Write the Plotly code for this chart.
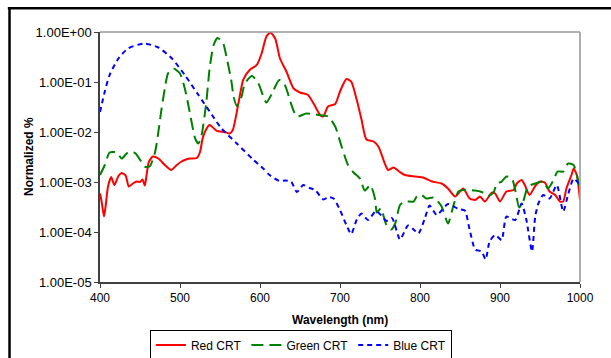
import plotly.graph_objects as go

# ---------------- data ----------------
red_wl = [400, 402, 405, 407, 410, 414, 418, 423, 427, 432, 436, 442, 446, 450, 453, 456, 458, 461,
          466, 473, 481, 489, 496, 502, 506, 512, 521, 525, 528, 531, 537, 546, 556, 562, 566, 573,
          579, 587, 596, 602, 608, 613, 619, 625, 633, 642, 650, 660, 669, 675, 679, 685, 694, 700,
          708, 714, 721, 727, 733, 742, 748, 756, 760, 767, 775, 781, 794, 804, 815, 827, 835, 844,
          854, 862, 869, 875, 881, 890, 894, 900, 908, 917, 921, 927, 931, 937, 944, 950, 956, 962,
          969, 975, 979, 983, 990, 992, 996, 1000]
red_val = [5.89e-4, 4.07e-4, 2.04e-4, 3.24e-4, 8.13e-4, 1.26e-3, 8.7e-4, 1.32e-3, 1.51e-3, 1.35e-3,
           8.13e-4, 9.55e-4, 1.02e-3, 1.0e-3, 1.12e-3, 8.51e-4, 1.3e-3, 2.5e-3,
           3.24e-3, 2.95e-3, 2.19e-3, 1.74e-3, 2.19e-3, 2.57e-3, 2.75e-3, 2.95e-3, 3.02e-3, 3.98e-3,
           7.08e-3, 1.0e-2, 1.38e-2, 1.05e-2, 1.0e-2, 9.33e-3, 1.1e-2, 3.72e-2,
           1.1e-1, 1.74e-1, 2.19e-1, 3.72e-1, 8.13e-1, 9.77e-1, 7.41e-1, 2.95e-1, 1.62e-1, 7.41e-2,
           6.17e-2, 5.5e-2, 3.24e-2, 2.19e-2, 2.04e-2, 3.24e-2, 3.63e-2, 6.46e-2,
           1.15e-1, 1.02e-1, 4.37e-2, 1.74e-2, 7.08e-3, 6.46e-3, 5.13e-3, 2.34e-3, 1.74e-3, 1.95e-3,
           1.58e-3, 1.38e-3, 1.29e-3, 1.23e-3, 1.02e-3, 9.33e-4, 7.41e-4, 5.13e-4,
           7.41e-4, 4.68e-4, 4.37e-4, 5.13e-4, 4.07e-4, 6.17e-4, 5.89e-4, 4.07e-4, 6.46e-4, 6.92e-4,
           9.33e-4, 1.1e-3, 8.7e-4, 5.5e-4, 8.32e-4, 1.02e-3, 9.77e-4, 6.46e-4,
           5.5e-4, 4.07e-4, 4.07e-4, 7.41e-4, 1.48e-3, 1.86e-3, 1.38e-3, 4.37e-4]

green_wl = [400, 406, 412, 421, 427, 435, 444, 456, 462, 469, 473, 477, 481, 485, 492, 500, 506, 512,
            519, 523, 527, 533, 537, 542, 547, 554, 558, 564, 567, 571, 577, 581, 590, 598, 608, 615,
            624, 631, 640, 646, 658, 673, 685, 694, 702, 710, 717, 725, 731, 738, 744, 746, 751, 758,
            764, 769, 775, 781, 792, 796, 802, 808, 817, 827, 835, 842, 848, 854, 869, 877, 885, 892,
            896, 902, 908, 915, 919, 924, 929, 935, 944, 954, 960, 967, 972, 979, 985, 992, 996, 1000]
green_val = [1.38e-3, 2.19e-3, 3.89e-3, 3.89e-3, 2.95e-3, 3.89e-3, 3.8e-3, 2.04e-3, 2.04e-3, 4.07e-3,
             1.02e-2, 2.95e-2, 7.41e-2, 1.48e-1, 1.86e-1, 1.48e-1, 7.41e-2, 2.57e-2,
             7.41e-3, 5.89e-3, 8.7e-3, 4.07e-2, 1.86e-1, 5.5e-1, 7.59e-1, 5.89e-1, 3.24e-1, 1.1e-1,
             5.13e-2, 3.31e-2, 5.13e-2, 9.33e-2, 1.32e-1, 9.33e-2, 3.89e-2, 5.89e-2,
             1.1e-1, 8.7e-2, 3.24e-2, 2.04e-2, 2.34e-2, 2.19e-2, 2.04e-2, 1.29e-2, 5.13e-3, 2.19e-3,
             1.55e-3, 1.17e-3, 6.76e-4, 8.7e-4, 4.47e-4, 2.45e-4, 2.95e-4, 1.38e-4,
             1.12e-4, 1.48e-4, 3.47e-4, 4.07e-4, 4.07e-4, 5.13e-4, 5.5e-4, 4.68e-4, 4.9e-4, 3.24e-4,
             1.48e-4, 3.47e-4, 6.46e-4, 6.92e-4, 6.76e-4, 6.31e-4, 5.25e-4, 6.17e-4,
             9.33e-4, 1.02e-3, 1.29e-3, 1.17e-3, 6.92e-4, 3.09e-4, 4.07e-4, 8.13e-4, 9.33e-4, 1.02e-3,
             7.41e-4, 1.1e-3, 1.62e-3, 1.62e-3, 2.34e-3, 2.19e-3, 1.38e-3, 7.41e-4]

blue_wl = [400, 406, 412, 423, 435, 455, 473, 490, 506, 523, 540, 552, 571, 592, 604, 612, 624, 632,
           639, 646, 654, 662, 669, 679, 686, 692, 700, 708, 714, 721, 727, 735, 745, 751, 758, 765,
           775, 785, 792, 798, 806, 812, 821, 835, 848, 856, 862, 869, 877, 882, 887, 894, 902, 908,
           919, 927, 933, 940, 944, 948, 954, 962, 971, 979, 985, 992, 1000]
blue_val = [2.5e-2, 6.46e-2, 1.38e-1, 2.95e-1, 4.68e-1, 5.89e-1, 4.9e-1, 2.95e-1, 1.38e-1, 5.5e-2,
            2.19e-2, 1.17e-2, 5.89e-3, 2.75e-3, 1.86e-3, 1.38e-3, 1.05e-3, 1.07e-3,
            1.02e-3, 6.3e-4, 8.7e-4, 7.6e-4, 6.9e-4, 4.47e-4, 5.0e-4, 4.68e-4, 2.75e-4, 1.38e-4,
            9.1e-5, 1.78e-4, 2.34e-4, 1.74e-4, 2.63e-4, 2.19e-4, 1.66e-4, 1.9e-4,
            7.1e-5, 1.35e-4, 1.12e-4, 9.3e-5, 1.86e-4, 3.39e-4, 2.19e-4, 3.63e-4, 2.88e-4, 2.69e-4,
            1.12e-4, 4.47e-5, 4.07e-5, 2.82e-5, 6.46e-5, 8.7e-5, 6.9e-5, 2.04e-4,
            1.74e-4, 3.72e-4, 1.74e-4, 4.07e-5, 2.04e-4, 3.72e-4, 5.5e-4, 4.68e-4, 8.7e-4, 2.57e-4,
            5.5e-4, 1.17e-3, 8.7e-4]

x_ticks = [400, 500, 600, 700, 800, 900, 1000]
y_ticks = [1e-5, 1e-4, 1e-3, 1e-2, 1e-1, 1e0]
y_tick_text = ["1.00E-05", "1.00E-04", "1.00E-03", "1.00E-02", "1.00E-01", "1.00E+00"]

FONT = "Liberation Sans, Arial, sans-serif"

fig = go.Figure()
fig.add_trace(go.Scatter(x=red_wl, y=red_val, name="Red CRT", mode="lines",
                         line=dict(color="#FF0000", width=2, shape="spline", smoothing=0.6)))
fig.add_trace(go.Scatter(x=green_wl, y=green_val, name="Green CRT", mode="lines",
                         line=dict(color="#008000", width=2, dash="12px,6px", shape="spline", smoothing=0.6)))
fig.add_trace(go.Scatter(x=blue_wl, y=blue_val, name="Blue CRT", mode="lines",
                         line=dict(color="#0000FF", width=2, dash="5px,4px", shape="spline", smoothing=0.6)))

fig.update_layout(
    width=611, height=358,
    margin=dict(l=100, r=31, t=32, b=76, autoexpand=False),
    paper_bgcolor="white", plot_bgcolor="white",
    font=dict(family=FONT, color="black", size=12),
    showlegend=True,
    legend=dict(orientation="h", x=0.104, xanchor="left", y=-0.19, yanchor="top",
                bordercolor="black", borderwidth=1, font=dict(size=12, family=FONT),
                tracegroupgap=0, itemwidth=30),
    xaxis=dict(range=[400, 1000], tickvals=x_ticks, ticks="outside", ticklen=4,
               tickcolor="#404040", showline=True, linecolor="#404040", linewidth=1.5,
               showgrid=False, zeroline=False, tickfont=dict(size=12, family=FONT)),
    yaxis=dict(type="log", range=[-5, 0], tickvals=y_ticks, ticktext=y_tick_text,
               ticks="outside", ticklen=4, tickcolor="#404040", showline=True,
               linecolor="#404040", linewidth=1.5, showgrid=False, zeroline=False,
               tickfont=dict(size=13, family=FONT)),
    shapes=[
        dict(type="line", xref="paper", yref="paper", x0=0, x1=1, y0=1, y1=1,
             line=dict(color="#999999", width=1.3)),
        dict(type="line", xref="paper", yref="paper", x0=1, x1=1, y0=0, y1=1,
             line=dict(color="#A0A0A0", width=1.7)),
        dict(type="line", xref="paper", yref="paper", x0=-0.192, x1=1.2, y0=1.095, y1=1.095,
             line=dict(color="black", width=2.5)),
        dict(type="line", xref="paper", yref="paper", x0=-0.1885, x1=-0.1885, y0=1.1, y1=-0.4,
             line=dict(color="black", width=2.5)),
    ],
    annotations=[
        dict(text="<b>Wavelength (nm)</b>", xref="paper", yref="paper", x=0.5, y=(282 - 320) / 250,
             xanchor="center", yanchor="middle", showarrow=False, font=dict(size=12, family=FONT)),
        dict(text="<b>Normalized %</b>", xref="paper", yref="paper", x=(29 - 100) / 480, y=0.5,
             xanchor="center", yanchor="middle", textangle=-90, showarrow=False,
             font=dict(size=12, family=FONT)),
    ],
)

fig.write_html("out.html")
